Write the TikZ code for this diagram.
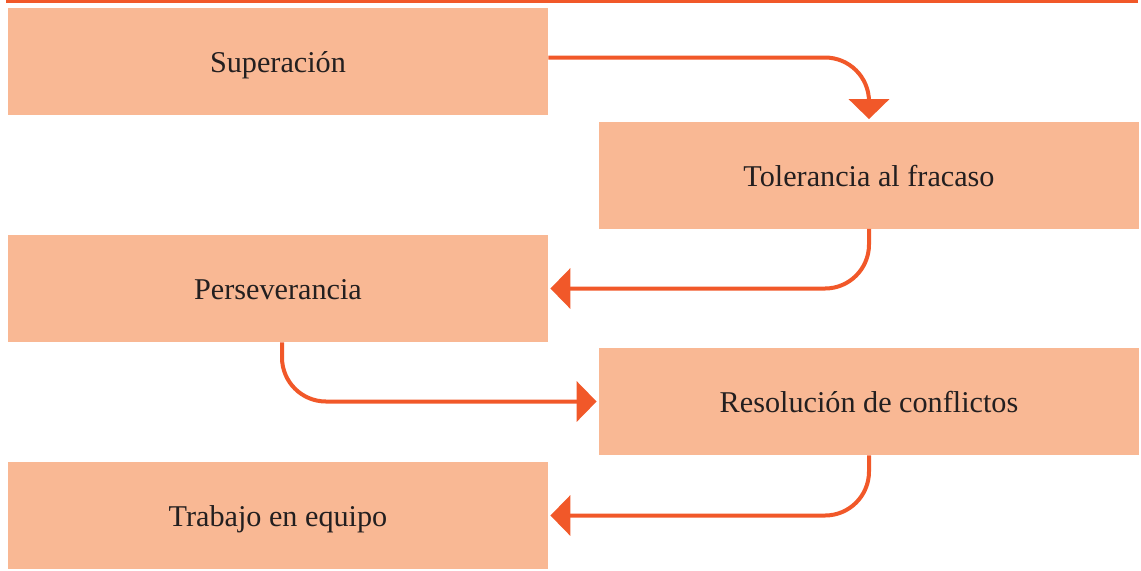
\documentclass[tikz,border=0pt]{standalone}
\usepackage{fontspec}
\setmainfont{Liberation Serif}
\usetikzlibrary{arrows.meta, positioning}

\definecolor{caja}{RGB}{249,184,148}
\definecolor{naranja}{RGB}{241,88,41}
\definecolor{texto}{RGB}{35,31,32}

\begin{document}
\begin{tikzpicture}[x=0.5pt, y=-0.5pt,
    valor/.style={fill=caja, minimum width=270pt, minimum height=53.5pt,
        inner sep=0pt, text height=11pt, text depth=0pt, text=texto,
        font=\fontsize{15.1}{17}\selectfont},
    flecha/.style={naranja, line width=2pt, rounded corners=22pt,
        -{Triangle[length=10pt, width=20pt]}, shorten >=1pt}]
    \useasboundingbox (0,0) rectangle (1141,570);

    % Linea superior
    \draw[naranja, line width=1.5pt] (6,1.5) -- (1138,1.5);

    % Cajas
    \node[valor] (sup) at (278,61.5) {Superación};
    \node[valor] (tol) at (869,175) {Tolerancia al fracaso};
    \node[valor] (per) at (278,288.5) {Perseverancia};
    \node[valor] (res) at (869,401.5) {Resolución de conflictos};
    \node[valor] (tra) at (278,515.5) {Trabajo en equipo};

    % Flechas
    \draw[flecha] ([yshift=2pt]sup.east) -| (tol.north);
    \draw[flecha] (tol.south) |- (per.east);
    \draw[flecha] ([xshift=2pt]per.south) |- (res.west);
    \draw[flecha] (res.south) |- (tra.east);

\end{tikzpicture}
\end{document}
